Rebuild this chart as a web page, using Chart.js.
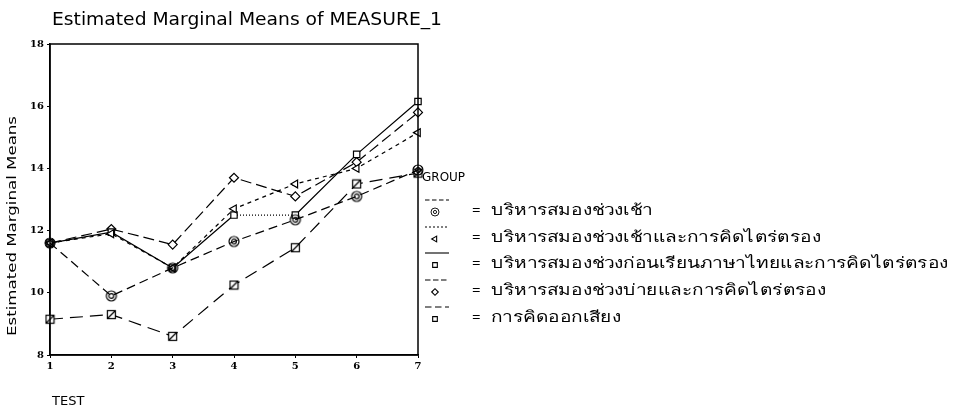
<!DOCTYPE html>
<html>
<head>
<meta charset="utf-8">
<script src="https://cdn.jsdelivr.net/npm/chart.js@4.4.0/dist/chart.umd.min.js"></script>
<style>
  html, body { margin: 0; padding: 0; background: #fff; }
  #wrap { width: 959px; height: 412px; position: relative; }
</style>
</head>
<body>
<div id="wrap"><canvas id="emmChart"></canvas></div>
<script>
// ข้อมูลจากกราฟ
const tests = ['1', '2', '3', '4', '5', '6', '7'];
const groupNames = [
    'บริหารสมองช่วงเช้า',
    'บริหารสมองช่วงเช้าและการคิดไตร่ตรอง',
    'บริหารสมองช่วงก่อนเรียนภาษาไทยและการคิดไตร่ตรอง',
    'บริหารสมองช่วงบ่ายและการคิดไตร่ตรอง',
    'การคิดออกเสียง'
];
const morning = [11.6, 9.9, 10.8, 11.65, 12.35, 13.1, 13.95];
const morningReflect = [11.6, 11.9, 10.8, 12.7, 13.5, 14.0, 15.15];
const beforeThaiReflect = [11.6, 11.95, 10.8, 12.5, 12.5, 14.45, 16.15];
const afternoonReflect = [11.6, 12.05, 11.55, 13.7, 13.1, 14.2, 15.8];
const thinkAloud = [9.15, 9.3, 8.6, 10.25, 11.45, 13.5, 13.85];
const yMin = 8, yMax = 18, yStep = 2;

// marker แบบวงกลมซ้อน
function doubleCircle(r, inner, lw) {
    const s = Math.ceil(r * 2 + 4);
    const c = document.createElement('canvas');
    c.width = s; c.height = s;
    const g = c.getContext('2d');
    g.strokeStyle = '#000'; g.lineWidth = lw;
    g.beginPath(); g.arc(s / 2, s / 2, r, 0, Math.PI * 2); g.stroke();
    g.beginPath(); g.arc(s / 2, s / 2, inner, 0, Math.PI * 2); g.stroke();
    return c;
}
// marker สี่เหลี่ยมมีขีด
function slashSquare(size) {
    const c = document.createElement('canvas');
    c.width = size + 2; c.height = size + 2;
    const g = c.getContext('2d');
    g.fillStyle = '#fff'; g.fillRect(1, 1, size, size);
    g.strokeStyle = '#000'; g.lineWidth = 1.2;
    g.strokeRect(1.5, 1.5, size - 1, size - 1);
    g.beginPath(); g.moveTo(2, size); g.lineTo(size, 2); g.stroke();
    return c;
}

const styles = [
    { point: doubleCircle(5, 2.4, 1.2), legendPoint: doubleCircle(4, 1.6, 0.9), rot: 0, dash: [9, 5] },
    { point: 'triangle', rot: -90, dash: [4, 4] },
    { point: 'rect', rot: 0, dash: [] },
    { point: 'rectRot', rot: 0, dash: [11, 5] },
    { point: slashSquare(9), legendPoint: 'rect', rot: 0, dash: [13, 7] }
];
const seriesValues = [morning, morningReflect, beforeThaiReflect, afternoonReflect, thinkAloud];

// วาดข้อความให้กว้างตามภาพต้นฉบับ
function fitText(ctx, text, x, y, width) {
    const w = ctx.measureText(text).width;
    ctx.save();
    ctx.translate(x, y);
    ctx.scale(width / w, 1);
    ctx.fillText(text, 0, 0);
    ctx.restore();
}

const textPlugin = {
    id: 'spssText',
    afterDraw(chart) {
        const ctx = chart.ctx;
        const a = chart.chartArea;
        ctx.save();
        // กรอบกราฟ
        ctx.strokeStyle = '#000';
        ctx.lineWidth = 1.5;
        ctx.strokeRect(a.left, a.top, a.right - a.left, a.bottom - a.top);

        ctx.fillStyle = '#000';
        ctx.textAlign = 'left';
        ctx.textBaseline = 'alphabetic';
        ctx.font = '17px "DejaVu Sans"';
        fitText(ctx, 'Estimated Marginal Means of MEASURE_1', 52, 25, 390);

        ctx.textBaseline = 'middle';
        ctx.font = '13px "DejaVu Sans"';
        ctx.fillText('TEST', 52, 402);

        ctx.save();
        ctx.translate(13, 226);
        ctx.rotate(-Math.PI / 2);
        ctx.font = '13px "DejaVu Sans"';
        fitText(ctx, 'Estimated Marginal Means', -110, 0, 220);
        ctx.restore();

        // คำอธิบาย GROUP
        ctx.font = '12px "DejaVu Sans"';
        ctx.fillText('GROUP', 422, 178);
        const rowY = [211, 238, 264, 291, 318];
        ctx.font = '15px "Noto Sans"';
        const longest = ctx.measureText(groupNames[2]).width;
        const sx = 457 / longest;
        groupNames.forEach((name, i) => {
            const y = rowY[i];
            const st = styles[i];
            ctx.strokeStyle = '#000';
            ctx.lineWidth = 1.1;
            ctx.setLineDash(st.dash.length ? st.dash.map(d => d * 0.5) : []);
            ctx.beginPath();
            ctx.moveTo(425, y - 11);
            ctx.lineTo(449, y - 11);
            ctx.stroke();
            ctx.setLineDash([]);
            ctx.fillStyle = '#fff';
            Chart.helpers.drawPoint(ctx, {
                pointStyle: st.legendPoint || st.point, rotation: st.rot, radius: 3.3, borderWidth: 1
            }, 435, y + 1);
            ctx.fillStyle = '#000';
            ctx.fillText('=', 472, y);
            ctx.save();
            ctx.translate(491, y);
            ctx.scale(sx, 1);
            ctx.fillText(name, 0, 0);
            ctx.restore();
        });
        ctx.restore();
    }
};

document.addEventListener('DOMContentLoaded', function () {
    const ctx = document.getElementById('emmChart').getContext('2d');
    new Chart(ctx, {
        type: 'line',
        data: {
            labels: tests,
            datasets: seriesValues.map((vals, i) => ({
                label: groupNames[i],
                data: vals,
                borderColor: '#000',
                borderWidth: 1.2,
                borderDash: styles[i].dash,
                backgroundColor: '#fff',
                pointStyle: styles[i].point,
                pointRotation: styles[i].rot,
                pointRadius: 4.5,
                pointBorderWidth: 1.2,
                pointBorderColor: '#000',
                pointBackgroundColor: '#fff',
                fill: false,
                tension: 0,
                segment: i === 2 ? { borderDash: s => s.p0DataIndex === 3 ? [1, 2] : undefined } : undefined
            }))
        },
        options: {
            responsive: true,
            maintainAspectRatio: false,
            animation: false,
            layout: { padding: { top: 44, right: 541, bottom: 35, left: 0 } },
            plugins: { legend: { display: false }, tooltip: { enabled: false }, title: { display: false } },
            scales: {
                x: {
                    offset: false,
                    afterFit: s => { s.height = 22; },
                    grid: { drawOnChartArea: false, color: '#000', tickLength: 3 },
                    border: { color: '#000', width: 1.5 },
                    ticks: { color: '#000', font: { family: '"DejaVu Serif"', size: 10, weight: 'bold' }, padding: 2 }
                },
                y: {
                    min: yMin,
                    max: yMax,
                    afterFit: s => { s.width = 50; },
                    grid: { drawOnChartArea: false, color: '#000', tickLength: 3 },
                    border: { color: '#000', width: 1.5 },
                    ticks: { stepSize: yStep, color: '#000', font: { family: '"DejaVu Serif"', size: 10, weight: 'bold' }, padding: 3 }
                }
            }
        },
        plugins: [textPlugin]
    });
});
</script>
</body>
</html>
